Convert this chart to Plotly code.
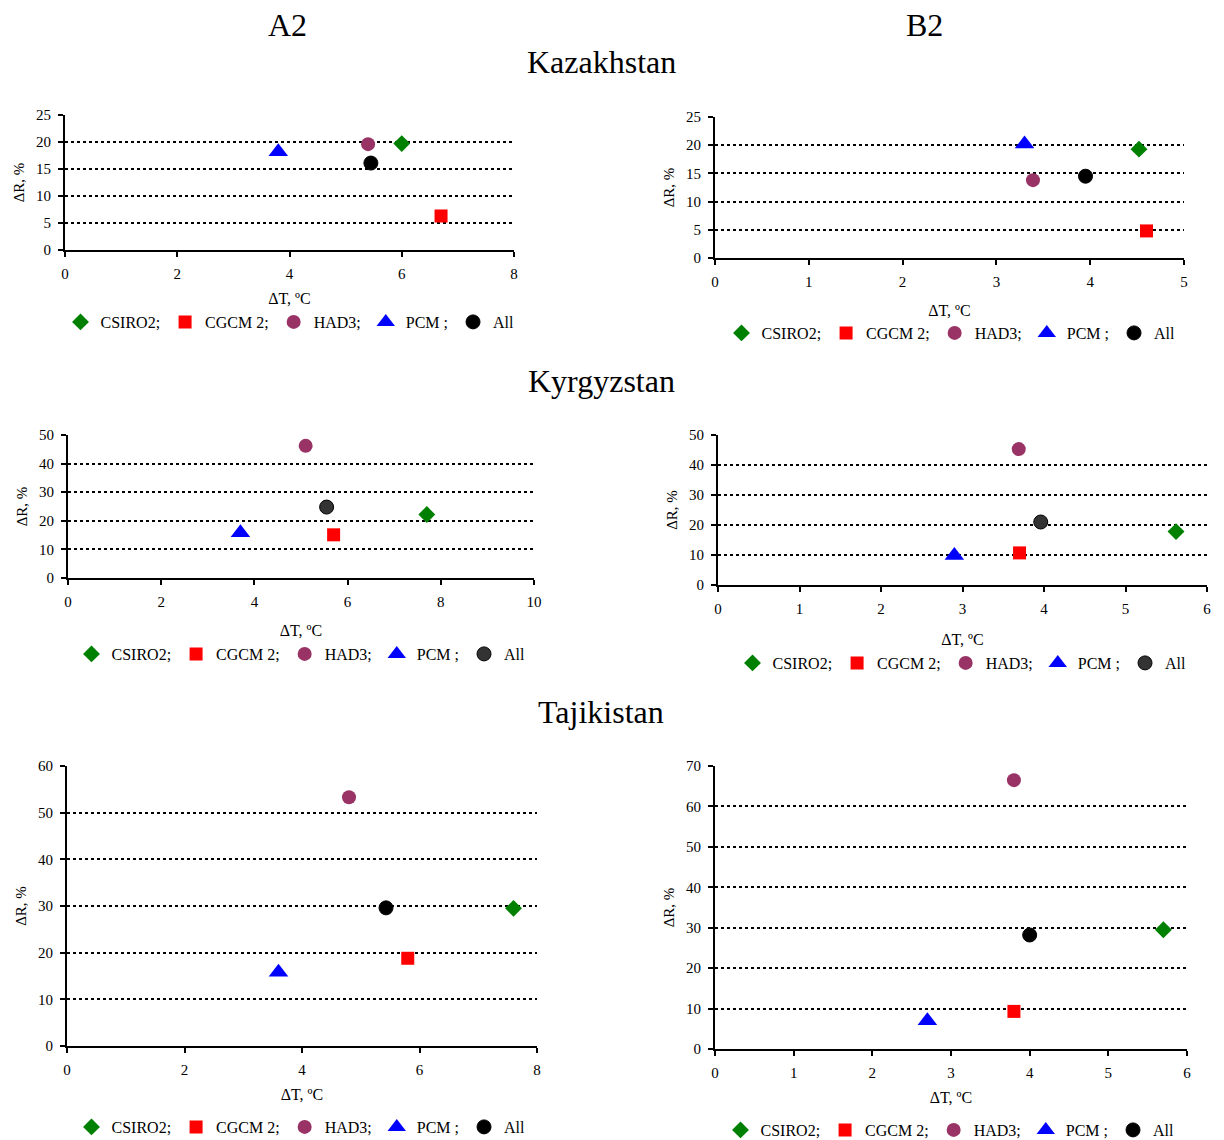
import plotly.graph_objects as go

W, H = 1224, 1140


def px_x(px):
    return px / W


def px_y(py):
    return 1 - py / H


models = ["CSIRO2", "CGCM2", "HAD3", "PCM", "All"]
legend_labels = ["CSIRO2;", "CGCM 2;", "HAD3;", "PCM ;", "All"]

# Values: (ΔT, ΔR) per model
kaz_a2_dT = [6.0, 6.7, 5.4, 3.8, 5.45]
kaz_a2_dR = [19.7, 6.3, 19.6, 18.2, 16.1]
kaz_b2_dT = [4.52, 4.6, 3.39, 3.3, 3.95]
kaz_b2_dR = [19.3, 4.8, 13.8, 20.2, 14.5]
kyr_a2_dT = [7.7, 5.7, 5.1, 3.7, 5.55]
kyr_a2_dR = [22.2, 15.1, 46.2, 15.8, 24.8]
kyr_b2_dT = [5.62, 3.7, 3.69, 2.9, 3.96]
kyr_b2_dR = [17.8, 10.7, 45.3, 9.8, 21.0]
taj_a2_dT = [7.6, 5.8, 4.8, 3.6, 5.43]
taj_a2_dR = [29.5, 18.8, 53.3, 15.8, 29.6]
taj_b2_dT = [5.7, 3.8, 3.8, 2.7, 4.0]
taj_b2_dR = [29.5, 9.3, 66.5, 7.0, 28.2]

symbols = ["diamond", "square", "circle", "triangle-up", "circle"]
sizes = [13, 13, 14, 17, 14]
colors = ["#008000", "#FF0000", "#993366", "#0000FF", "#000000"]

panels = [
    dict(dT=kaz_a2_dT, dR=kaz_a2_dR, box=(65, 514, 115, 250), xr=8, dx=2, yr=25, dy=5, leg=(290, 322), xt=12, all_col="#000000"),
    dict(dT=kaz_b2_dT, dR=kaz_b2_dR, box=(715, 1184, 117, 258), xr=5, dx=1, yr=25, dy=5, leg=(951, 333), xt=16, all_col="#000000"),
    dict(dT=kyr_a2_dT, dR=kyr_a2_dR, box=(68, 534, 435, 578), xr=10, dx=2, yr=50, dy=10, leg=(301, 654), xt=16, all_col="#333333"),
    dict(dT=kyr_b2_dT, dR=kyr_b2_dR, box=(718, 1207, 435, 585), xr=6, dx=1, yr=50, dy=10, leg=(962, 663), xt=18, all_col="#333333"),
    dict(dT=taj_a2_dT, dR=taj_a2_dR, box=(67, 537, 766, 1046), xr=8, dx=2, yr=60, dy=10, leg=(301, 1127), xt=12, all_col="#000000"),
    dict(dT=taj_b2_dT, dR=taj_b2_dR, box=(715, 1187, 766, 1049), xr=6, dx=1, yr=70, dy=10, leg=(950, 1130), xt=12, all_col="#000000"),
]

FONT = "Liberation Serif, Times New Roman, serif"

fig = go.Figure()
layout = dict(
    width=W, height=H,
    margin=dict(l=0, r=0, t=0, b=0, autoexpand=False),
    paper_bgcolor="white", plot_bgcolor="white",
    font=dict(family=FONT, color="black", size=15),
    showlegend=True,
)

for i, p in enumerate(panels):
    n = i + 1
    xa = "x" if n == 1 else f"x{n}"
    ya = "y" if n == 1 else f"y{n}"
    lg = "legend" if n == 1 else f"legend{n}"
    for j, m in enumerate(models):
        col = p["all_col"] if m == "All" else colors[j]
        fig.add_trace(go.Scatter(
            x=[p["dT"][j]], y=[p["dR"][j]],
            mode="markers", name=legend_labels[j],
            marker=dict(symbol=symbols[j], color=col, size=sizes[j],
                        line=dict(width=1, color="black") if m == "All" else dict(width=0)),
            xaxis=xa, yaxis=ya, legend=lg, cliponaxis=False,
        ))
    x0, x1, yt, yb = p["box"]
    xkey = "xaxis" if n == 1 else f"xaxis{n}"
    ykey = "yaxis" if n == 1 else f"yaxis{n}"
    layout[xkey] = dict(
        domain=[px_x(x0), px_x(x1)], anchor=ya, range=[0, p["xr"]], dtick=p["dx"],
        showgrid=False, zeroline=False, showline=True, linecolor="black", linewidth=2,
        ticks="outside", ticklen=5, tickwidth=1.5, tickcolor="black",
        tickfont=dict(family=FONT, size=15), automargin=False, ticklabelstandoff=4,
        title=dict(text="ΔT, ºC", font=dict(family=FONT, size=16), standoff=p["xt"]),
        fixedrange=True,
    )
    layout[ykey] = dict(
        domain=[px_y(yb), px_y(yt)], anchor=xa, range=[0, p["yr"]], dtick=p["dy"],
        showgrid=True, gridcolor="black", gridwidth=2, griddash="dot",
        zeroline=False, showline=True, linecolor="black", linewidth=2,
        ticks="outside", ticklen=5, tickwidth=1.5, tickcolor="black",
        tickfont=dict(family=FONT, size=15), automargin=False, ticklabelstandoff=4,
        title=dict(text="ΔR, %", font=dict(family=FONT, size=15), standoff=8),
        fixedrange=True,
    )
    lx, ly = p["leg"]
    layout[lg] = dict(
        orientation="h", x=px_x(lx), xanchor="center", y=px_y(ly), yanchor="middle",
        font=dict(family=FONT, size=16), bgcolor="rgba(0,0,0,0)",
        itemwidth=30, tracegroupgap=0,
    )

annotations = [
    dict(text="A2", x=px_x(287), y=px_y(25)),
    dict(text="B2", x=px_x(924), y=px_y(25)),
    dict(text="Kazakhstan", x=px_x(601), y=px_y(62)),
    dict(text="Kyrgyzstan", x=px_x(601), y=px_y(381)),
    dict(text="Tajikistan", x=px_x(601), y=px_y(712)),
]
layout["annotations"] = [
    dict(a, xref="paper", yref="paper", xanchor="center", yanchor="middle", showarrow=False,
         font=dict(family=FONT, size=32, color="black"))
    for a in annotations
]

fig.update_layout(**layout)
fig.write_html(
    "out.html",
    config={"displayModeBar": False},
    post_script="document.body.style.margin='0';document.body.style.overflow='hidden';",
)
